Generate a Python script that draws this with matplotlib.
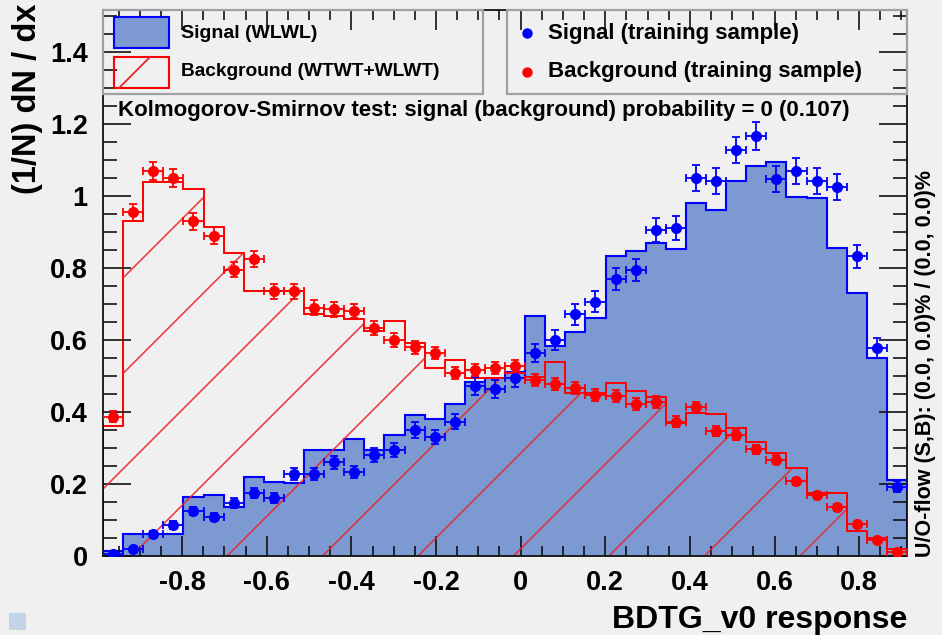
import numpy as np
import matplotlib
matplotlib.use("Agg")
import matplotlib.pyplot as plt
from matplotlib.lines import Line2D
from matplotlib.patches import Rectangle
from matplotlib.ticker import MultipleLocator, FuncFormatter

plt.rcParams['font.family'] = ['Liberation Sans', 'DejaVu Sans']
plt.rcParams['font.weight'] = 'bold'
plt.rcParams['axes.unicode_minus'] = False

# BDTG_v0 response binning: 40 bins
x_lo, x_hi, n_bins = -0.987, 0.913, 40

# test sample (histograms)
sig_test = [0.014, 0.062, 0.062, 0.062, 0.164, 0.169, 0.136, 0.219, 0.206, 0.203,
            0.294, 0.294, 0.325, 0.294, 0.336, 0.392, 0.380, 0.422, 0.483, 0.494,
            0.511, 0.667, 0.583, 0.622, 0.661, 0.833, 0.847, 0.869, 0.853, 0.980,
            0.961, 1.042, 1.083, 1.094, 0.997, 0.994, 0.856, 0.731, 0.550, 0.211]
bkg_test = [0.360, 0.930, 1.040, 1.040, 1.020, 0.915, 0.843, 0.735, 0.735, 0.735,
            0.672, 0.667, 0.658, 0.625, 0.653, 0.592, 0.522, 0.544, 0.494, 0.494,
            0.508, 0.497, 0.539, 0.453, 0.453, 0.480, 0.458, 0.442, 0.370, 0.397,
            0.394, 0.356, 0.317, 0.286, 0.244, 0.175, 0.175, 0.070, 0.050, 0.020]

# training sample (points with errors)
sig_train = [0.006, 0.020, 0.061, 0.086, 0.125, 0.108, 0.147, 0.175, 0.161, 0.228,
             0.228, 0.260, 0.233, 0.280, 0.294, 0.350, 0.330, 0.373, 0.472, 0.464,
             0.494, 0.564, 0.600, 0.672, 0.706, 0.769, 0.794, 0.906, 0.911, 1.050,
             1.042, 1.128, 1.167, 1.047, 1.069, 1.042, 1.025, 0.833, 0.578, 0.192]
sig_train_err = [0.003, 0.005, 0.009, 0.010, 0.012, 0.012, 0.013, 0.015, 0.014, 0.017,
                 0.017, 0.018, 0.017, 0.019, 0.019, 0.021, 0.020, 0.021, 0.024, 0.024,
                 0.025, 0.026, 0.027, 0.029, 0.029, 0.031, 0.031, 0.033, 0.033, 0.036,
                 0.036, 0.037, 0.038, 0.036, 0.036, 0.036, 0.035, 0.032, 0.027, 0.015]
bkg_train = [0.387, 0.955, 1.070, 1.050, 0.930, 0.890, 0.795, 0.826, 0.735, 0.735,
             0.690, 0.685, 0.680, 0.633, 0.600, 0.580, 0.564, 0.508, 0.516, 0.522,
             0.528, 0.490, 0.478, 0.467, 0.448, 0.445, 0.423, 0.428, 0.373, 0.414,
             0.348, 0.337, 0.296, 0.268, 0.207, 0.169, 0.135, 0.088, 0.044, 0.011]
bkg_train_err = [0.015, 0.023, 0.025, 0.025, 0.023, 0.023, 0.021, 0.022, 0.021, 0.021,
                 0.020, 0.020, 0.020, 0.019, 0.019, 0.018, 0.018, 0.017, 0.017, 0.017,
                 0.017, 0.017, 0.017, 0.016, 0.016, 0.016, 0.016, 0.016, 0.015, 0.015,
                 0.014, 0.014, 0.013, 0.012, 0.011, 0.010, 0.009, 0.007, 0.005, 0.003]

BG = '#f0f0f0'
SIG_FILL = '#7d99d1'
BLUE = '#0000ff'
RED = '#ff0000'

W, H = 942, 635
fig = plt.figure(figsize=(W / 100, H / 100), dpi=100, facecolor=BG)


def fx(px):
    return px / W


def fy(py):
    return 1 - py / H


ax = fig.add_axes([fx(103), fy(556), fx(907) - fx(103), fy(10) - fy(556)])
ax.set_facecolor(BG)

edges = np.linspace(x_lo, x_hi, n_bins + 1)
centers = 0.5 * (edges[1:] + edges[:-1])
half = 0.5 * (edges[1] - edges[0])

# signal (test) filled histogram
ax.stairs(sig_test, edges, fill=True, facecolor=SIG_FILL, edgecolor='none', lw=0)
ax.stairs(sig_test, edges, baseline=0, color=BLUE, lw=1.5)

# background (test) hatched histogram, sparse 45 deg hatch done by hand
bkg_clip = ax.stairs(bkg_test, edges, fill=True, facecolor='none', edgecolor='none')
for k in range(-10, 12):
    x0 = 2.27 + 0.955 * k
    ln = Line2D([x0, x0 + 7], [0.79, 7.79], transform=fig.dpi_scale_trans,
                color='#e8262a', lw=1.2, alpha=0.85)
    ln.set_clip_path(bkg_clip)
    ax.add_artist(ln)
ax.stairs(bkg_test, edges, baseline=0, color=RED, lw=1.4)

# training points
ax.errorbar(centers, sig_train, xerr=half, yerr=sig_train_err, fmt='o', color=BLUE,
            ms=7, lw=1.3, capsize=3.2, capthick=1.3, zorder=5)
ax.errorbar(centers, bkg_train, xerr=half, yerr=bkg_train_err, fmt='o', color=RED,
            ms=7, lw=1.3, capsize=3.2, capthick=1.3, zorder=5)

ax.set_xlim(x_lo, x_hi)
ax.set_ylim(0, 1.517)


def fmt(v, pos):
    s = f"{v:.1f}".rstrip('0').rstrip('.')
    return '0' if s in ('-0', '') else s


ax.xaxis.set_major_locator(MultipleLocator(0.2))
ax.xaxis.set_minor_locator(MultipleLocator(0.05))
ax.yaxis.set_major_locator(MultipleLocator(0.2))
ax.yaxis.set_minor_locator(MultipleLocator(0.05))
ax.xaxis.set_major_formatter(FuncFormatter(fmt))
ax.yaxis.set_major_formatter(FuncFormatter(fmt))
ax.tick_params(which='both', direction='in', top=True, right=True, color='#111111', width=1.2)
ax.tick_params(axis='x', which='major', length=14.5, labelsize=19.5, pad=10)
ax.tick_params(axis='x', which='minor', length=7)
ax.tick_params(axis='y', which='major', length=20, labelsize=19.5, pad=11)
ax.tick_params(axis='y', which='minor', length=10)
for s in ax.spines.values():
    s.set_linewidth(1.3)
    s.set_color('#111111')

# axis titles
fig.text(fx(907), fy(628), 'BDTG_v0 response', ha='right', va='baseline', size=23, weight='bold')
fig.text(fx(28), fy(3), '(1/N) dN / dx', rotation=90, ha='center', va='top', size=23.5, weight='bold')
fig.text(fx(926), fy(557), 'U/O-flow (S,B): (0.0, 0.0)% / (0.0, 0.0)%', rotation=90,
         ha='center', va='bottom', size=15.5, weight='bold')

# KS test text
fig.text(fx(118), fy(116), 'Kolmogorov-Smirnov test: signal (background) probability = 0 (0.107)',
         ha='left', va='baseline', size=16, weight='bold')

# legend boxes
for x0, x1 in [(103, 483), (507, 907)]:
    fig.add_artist(Rectangle((fx(x0), fy(94)), fx(x1) - fx(x0), fy(10) - fy(94), fill=False,
                             edgecolor='#9da1a6', lw=1.6, transform=fig.transFigure))

fig.add_artist(Rectangle((fx(114), fy(48)), fx(169) - fx(114), fy(17) - fy(48),
                         facecolor=SIG_FILL, edgecolor=BLUE, lw=1.5, transform=fig.transFigure))
fig.add_artist(Rectangle((fx(114), fy(88)), fx(169) - fx(114), fy(57) - fy(88),
                         fill=False, edgecolor=RED, lw=1.5, transform=fig.transFigure))
fig.add_artist(Line2D([fx(119), fx(150)], [fy(88), fy(57)], color='#e8262a', lw=1.3,
                      transform=fig.transFigure))
fig.text(fx(181), fy(33), 'Signal (WLWL)', ha='left', va='center', size=14, weight='bold')
fig.text(fx(181), fy(72), 'Background (WTWT+WLWT)', ha='left', va='center', size=13.8, weight='bold')

fig.add_artist(Line2D([fx(527)], [fy(33)], marker='o', ms=6.5, color=BLUE, transform=fig.transFigure))
fig.add_artist(Line2D([fx(527)], [fy(72)], marker='o', ms=6.5, color=RED, transform=fig.transFigure))
fig.text(fx(548), fy(33), 'Signal (training sample)', ha='left', va='center', size=16, weight='bold')
fig.text(fx(548), fy(72), 'Background (training sample)', ha='left', va='center', size=16, weight='bold')

# little marker left over in the corner of the canvas
fig.add_artist(Rectangle((fx(9), fy(630)), fx(26) - fx(9), fy(613) - fy(630),
                         facecolor='#c3d3e8', edgecolor='none', transform=fig.transFigure))

fig.savefig('out.png', dpi=100, facecolor=BG)
